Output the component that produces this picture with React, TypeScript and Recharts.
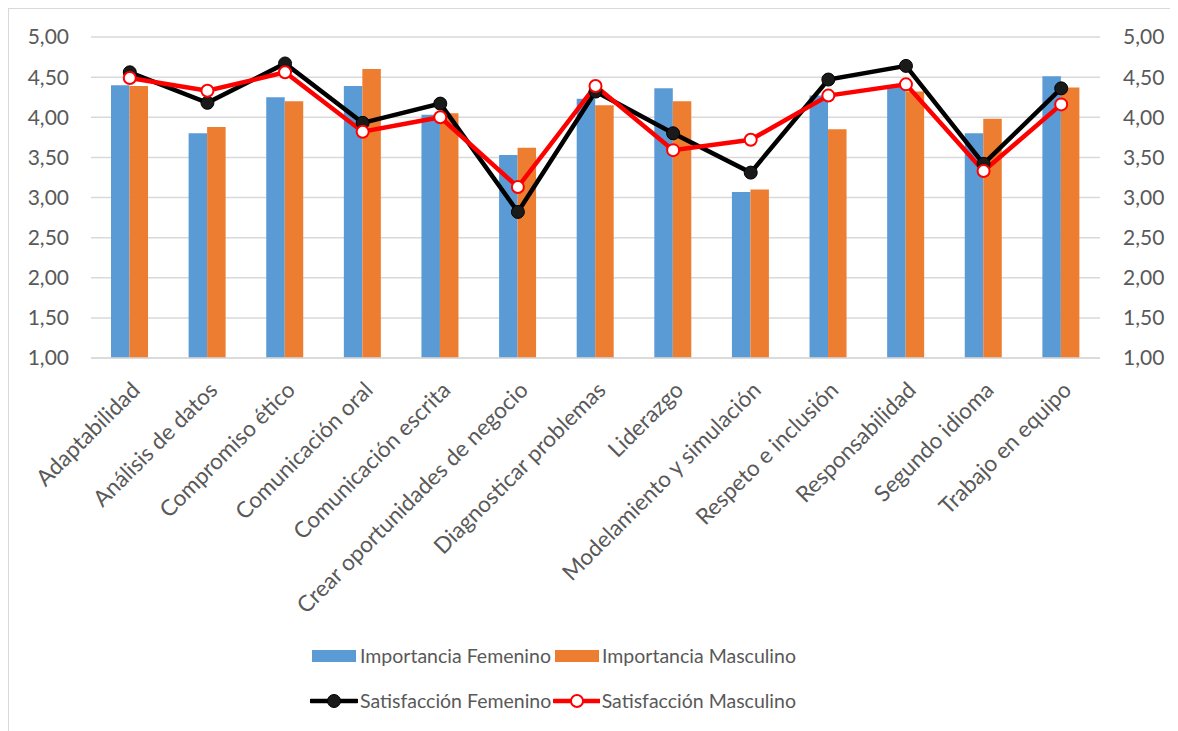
import React from 'react';
import { ComposedChart, Bar, Line, XAxis, YAxis, CartesianGrid } from 'recharts';

const categories = [
  'Adaptabilidad',
  'Análisis de datos',
  'Compromiso ético',
  'Comunicación oral',
  'Comunicación escrita',
  'Crear oportunidades de negocio',
  'Diagnosticar problemas',
  'Liderazgo',
  'Modelamiento y simulación',
  'Respeto e inclusión',
  'Responsabilidad',
  'Segundo idioma',
  'Trabajo en equipo',
];

const importanciaFemenino = [4.40, 3.80, 4.25, 4.39, 4.03, 3.53, 4.23, 4.36, 3.07, 4.27, 4.40, 3.80, 4.51];
const importanciaMasculino = [4.39, 3.88, 4.20, 4.60, 4.05, 3.62, 4.15, 4.20, 3.10, 3.85, 4.32, 3.98, 4.37];
const satisfaccionFemenino = [4.56, 4.18, 4.67, 3.93, 4.17, 2.82, 4.32, 3.80, 3.31, 4.47, 4.64, 3.42, 4.36];
const satisfaccionMasculino = [4.49, 4.33, 4.56, 3.82, 4.00, 3.13, 4.39, 3.59, 3.72, 4.27, 4.41, 3.33, 4.16];

const yTicks = [1, 1.5, 2, 2.5, 3, 3.5, 4, 4.5, 5];

const data = categories.map((name, i) => ({
  name,
  impF: importanciaFemenino[i],
  impM: importanciaMasculino[i],
  satF: satisfaccionFemenino[i],
  satM: satisfaccionMasculino[i],
}));

const FONT = 'Lato, "Open Sans", sans-serif';
const TEXT = '#595959';
const fmt = (v: number) => v.toFixed(2).replace('.', ',');

function CategoryTick({ x, y, payload }: any) {
  return (
    <g transform={`translate(${x + 6},${y + 20})`}>
      <text
        transform="rotate(-45)"
        textAnchor="end"
        fill={TEXT}
        fontSize={22.5}
        fontFamily={FONT}
        dy="0.35em"
      >
        {payload.value}
      </text>
    </g>
  );
}

function LegendItem({ kind, color, label }: { kind: 'bar' | 'dark' | 'light'; color: string; label: string }) {
  return (
    <div style={{ display: 'flex', alignItems: 'center', width: 243 }}>
      <svg width={48} height={16} style={{ marginRight: 2 }}>
        {kind === 'bar' ? (
          <rect x={2} y={2} width={44} height={12} fill={color} />
        ) : (
          <>
            <line x1={1} y1={8} x2={47} y2={8} stroke={color} strokeWidth={4.5} strokeLinecap="round" />
            <circle cx={24} cy={8} r={kind === 'dark' ? 6.5 : 6} fill={kind === 'dark' ? '#1a1a1a' : '#fff'} stroke={color} strokeWidth={kind === 'dark' ? 1 : 2} />
          </>
        )}
      </svg>
      <span style={{ fontFamily: FONT, fontSize: 19.5, color: TEXT, whiteSpace: 'nowrap' }}>{label}</span>
    </div>
  );
}

export default function App() {
  return (
    <div
      style={{
        position: 'relative',
        width: 1175,
        height: 730,
        borderLeft: '1px solid #d9d9d9',
        borderTop: '1px solid #d9d9d9',
        boxSizing: 'border-box',
        background: '#fff',
      }}
    >
      <ComposedChart
        width={1170}
        height={620}
        data={data}
        margin={{ top: 28, right: 0, left: 0, bottom: 0 }}
        barGap={0}
      >
        <CartesianGrid vertical={false} stroke="#d9d9d9" strokeWidth={1.5} yAxisId="left" />
        <XAxis
          dataKey="name"
          interval={0}
          height={271}
          tick={<CategoryTick />}
          tickLine={false}
          axisLine={{ stroke: '#d9d9d9', strokeWidth: 1.5 }}
        />
        <YAxis
          yAxisId="left"
          orientation="left"
          domain={[1, 5]}
          ticks={yTicks}
          tickFormatter={fmt}
          width={82}
          axisLine={false}
          tickLine={false}
          tickSize={0}
          tickMargin={22}
          tick={{ fill: TEXT, fontSize: 21, fontFamily: FONT }}
        />
        <YAxis
          yAxisId="right"
          orientation="right"
          domain={[1, 5]}
          ticks={yTicks}
          tickFormatter={fmt}
          width={79}
          axisLine={false}
          tickLine={false}
          tickSize={0}
          tickMargin={23}
          tick={{ fill: TEXT, fontSize: 21, fontFamily: FONT }}
        />
        <Bar yAxisId="left" dataKey="impF" name="Importancia Femenino" fill="#5B9BD5" barSize={18.5} isAnimationActive={false} />
        <Bar yAxisId="left" dataKey="impM" name="Importancia Masculino" fill="#ED7D31" barSize={18.5} isAnimationActive={false} />
        <Line
          yAxisId="right"
          dataKey="satF"
          name="Satisfacción Femenino"
          stroke="#000"
          strokeWidth={4.5}
          dot={{ r: 6.5, fill: '#1a1a1a', stroke: '#000', strokeWidth: 1 }}
          isAnimationActive={false}
        />
        <Line
          yAxisId="right"
          dataKey="satM"
          name="Satisfacción Masculino"
          stroke="#FF0000"
          strokeWidth={4.5}
          dot={{ r: 6, fill: '#fff', stroke: '#FF0000', strokeWidth: 2 }}
          isAnimationActive={false}
        />
      </ComposedChart>
      <div style={{ position: 'absolute', left: 301, top: 635, display: 'flex', flexDirection: 'column', gap: 22 }}>
        <div style={{ display: 'flex' }}>
          <LegendItem kind="bar" color="#5B9BD5" label="Importancia Femenino" />
          <LegendItem kind="bar" color="#ED7D31" label="Importancia Masculino" />
        </div>
        <div style={{ display: 'flex' }}>
          <LegendItem kind="dark" color="#000" label="Satisfacción Femenino" />
          <LegendItem kind="light" color="#FF0000" label="Satisfacción Masculino" />
        </div>
      </div>
    </div>
  );
}
